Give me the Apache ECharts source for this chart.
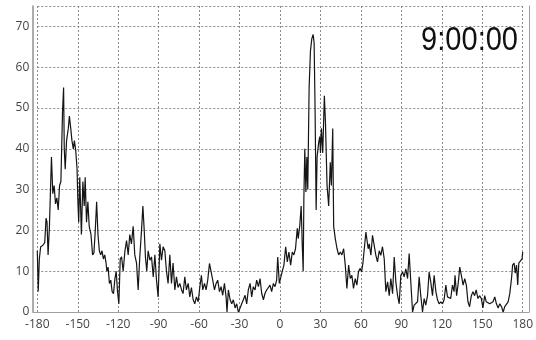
<!DOCTYPE html>
<html><head><meta charset="utf-8">
<script src="https://cdn.jsdelivr.net/npm/echarts@6/dist/echarts.min.js"></script>
<style>html,body{margin:0;padding:0;background:#fff}#c{width:536px;height:340px}</style>
</head><body><div id="c"></div>
<script>
// Angle (degrees) of each sample
const angles = [
-180,-179.3,-178.5,-177.5,-176,-174.5,-173.5,-172.8,-172,-171,-169.5,-168.5,-167.5,-166.5,-165.5,-164.5,-163.5,-162.5,-161.3,-160.5,-160,-159.3,-158.3,-157,-156.2,-155.2,-154.3,-153.3,-152.5,-151.5,-150.5,-150,-149.3,-148.5,-147.3,-146.2,-145.2,-144.5,-143.5,-142.5,-141.5,-140.2,-139,-138,-137,-136,-135,-134,-133,-132,-131,-130,-129,-128.4,-127.5,-126.5,-125.5,-124.5,-123.5,-122.5,-121.5,-120.5,-119.5,
-118.5,-117.5,-116.3,-115,-113.8,-112.6,-111.4,-110.2,-108.9,-107.7,-106.4,-105.2,-104,-102.7,-101.7,-100.7,-99.8,-98.8,-97.8,-96.5,-95.3,-94,-92.8,-91.6,-90.4,-89.1,-87.9,-86.7,-85.4,-84.2,-83,-81.7,-80.5,-79.3,-78,-76.8,-75.6,-74.3,-73,-71.9,-70.6,-69.4,-68.1,-66.9,-65.7,-64.4,-63.2,-62,-60.7,-59.5,-58.3,
-57.3,-56,-54.8,-53.6,-52.3,-51.1,-49.9,-48.6,-47.4,-46.2,-44.9,-43.7,-42.5,-41.2,-40,-39.3,-38.3,-37,-35.8,-34.6,-33.3,-32.1,-30.9,-29.6,-28.4,-27.2,-25.9,-24.7,-23.5,-22.2,-21,-19.8,-18.5,-17.3,-16,-14.8,-13.6,-12.3,-11.1,-9.9,-8.6,-7.4,-6.2,-4.9,-3.7,-2.5,-1.7,-0.5,
0.5,1.7,2.9,4.2,5.4,6.6,7.9,9.1,10.3,11.5,12.8,13.5,14.7,15.7,16.5,17.2,17.7,18.4,19.2,19.9,20.6,21.6,22.6,23.6,24.6,25.3,26,26.8,27.5,28.7,29.5,30,30.7,31.7,32.9,33.7,34.9,36.1,37.3,38.1,39.1,39.8,41,42.3,43.5,44.7,45.9,47.2,48.4,49.6,50.9,52.1,53.3,54.5,55.8,57,58.2,59.5,
60.5,61.5,62.5,63.7,64.4,65.4,66.2,67.4,68.6,69.9,71.1,72.3,73.6,74.8,76,77.3,78.5,79.8,81,82.2,83.5,84.7,85.9,87.2,88.4,89.6,90.9,92.1,93.3,94.6,95.8,97,98.3,99.5,100.7,102,103.2,104.4,105.7,106.9,108.1,109.4,110.6,111.8,113.1,114.3,115.6,116.8,118,
119.3,120.5,121.7,123,124.2,125.4,126.6,127.9,129.1,129.8,131,132.3,133.3,134.5,135.8,137,138.2,139.4,140.6,141.9,143.1,144.3,145.5,146.8,148,149.3,150.5,151.8,153,154.3,155.5,156.8,158,159.3,160.5,161.8,163,164.3,165.5,166.7,168,169.2,170.4,171.7,172.5,173.6,174.5,175.4,176.3,177.1,178.3,179.5,180
];
// Count at each angle
const counts = [
15,5,13,16,16.3,17,23,22,14,21,38,29,31,26.5,28,25,31,32,49,55,40,35,42,45,48,45,42,40,42,39.6,35,28,22,33,19,32,26,33,22,27,21,19,14,14.5,20,27,19,15,14,15,13,14,12,10,11,7,7.8,5,4.5,8,10,5,2,
13,13.5,10,15,17.5,14,19,16.7,21,14,12,5.4,13.5,20,26,20,13.5,10,15,12.7,13.5,8.6,14,7.8,3.7,16.7,12.7,16,15,10,7,14,7,12,5.4,8.6,6,7,5.4,4.5,8.6,5.4,7,3.7,6,3,2,3.7,2.5,6,9,
5.4,7,5.4,7.8,11.9,11.5,7.8,5.4,7,7.8,5,6.2,4.1,7,3.7,0,5.4,3,2,3,1,2,0,1,2,3,4.1,2,5.4,7,3.7,6.2,5.4,7.8,6.2,8.2,4.6,3,4.6,5.4,5,6.6,5,7,6.2,7.8,13.5,7,
7.4,10,11.5,16,12.3,14.7,11.5,14.7,14,15.5,20.5,18,21.3,26,16.4,10,27.8,40,29.4,38,30,55,64,67,68,66,50,25,38,41.6,43,39,45,39,53,46.5,31,26,36.7,31,45,21,18,15.5,14,14.7,14,15.5,11.5,5.8,11.5,8.2,9,5.8,8.2,6.6,9.9,10.7,
9.8,12,15.5,19.6,20,15.5,16.7,13.9,18.8,19.2,13.9,12.3,15,13.9,16,13,5,7.4,4,8.2,4.5,13.5,7.4,4,2,9,9.8,8.6,10.6,8.2,14.3,7.4,0,1.7,2,2.5,8.6,4,0,3.3,1.7,4,9.8,7.4,4,9,5,3,2,
2.5,2,3,6.6,3.7,4.1,3.3,6.6,5,9,4,7.4,11,9,6.6,8.2,6.6,2.5,1.3,4,5,4,5.4,3.3,4,3.3,1,4,2.5,2.5,2,2,2.5,3.7,2,1,2,1.3,0,1.3,1.7,2.5,4.5,8.2,11.5,12,9.5,11.5,6.6,12,12.3,13,14.7
];
const xTicks = { min: -180, max: 180, step: 30 };
const yTicks = { min: 0, max: 75, step: 10 };
const timeLabel = '9:00:00';

const points = angles.map((a, i) => [a, counts[i]]);
const grid = { lineColor: '#8a8a8a', frameColor: '#a0a0a0' };

const chart = echarts.init(document.getElementById('c'), null, { renderer: 'canvas' });
const labelStyle = { color: '#444', fontSize: 12, fontFamily: 'Open Sans' };
const dashed = { show: true, lineStyle: { color: grid.lineColor, type: [2, 2], width: 1 } };
chart.setOption({
  animation: false,
  backgroundColor: '#fff',
  grid: [
    { left: 37.3, right: 12.7, top: 6, bottom: 28 },
    { left: 33, right: 7, top: 6, bottom: 28 }
  ],
  xAxis: [
    { type: 'value', gridIndex: 0, min: xTicks.min, max: xTicks.max, interval: xTicks.step,
      axisLine: { show: false }, axisTick: { show: false }, splitLine: dashed,
      axisLabel: Object.assign({ margin: 7 }, labelStyle) },
    { type: 'value', gridIndex: 1, position: 'top', min: 0, max: 1,
      axisLine: { show: true, lineStyle: { color: grid.frameColor, width: 1 } },
      axisTick: { show: false }, axisLabel: { show: false }, splitLine: { show: false } }
  ],
  yAxis: [
    { type: 'value', gridIndex: 0, min: yTicks.min, max: yTicks.max, interval: yTicks.step,
      axisLine: { show: false }, axisTick: { show: false }, splitLine: dashed,
      axisLabel: Object.assign({ margin: 8, showMaxLabel: false }, labelStyle) },
    { type: 'value', gridIndex: 1, position: 'left', min: 0, max: 1,
      axisLine: { show: true, lineStyle: { color: '#909090', width: 1.5 } },
      axisTick: { show: false }, axisLabel: { show: false }, splitLine: { show: false } },
    { type: 'value', gridIndex: 1, position: 'right', min: 0, max: 1,
      axisLine: { show: true, lineStyle: { color: grid.frameColor, width: 1 } },
      axisTick: { show: false }, axisLabel: { show: false }, splitLine: { show: false } }
  ],
  graphic: [
    { type: 'text', x: 518, y: 24, scaleX: 0.88, z: 10,
      style: { text: timeLabel, fontSize: 33, fontFamily: 'Liberation Sans', fill: '#111',
               align: 'right', verticalAlign: 'top' } }
  ],
  series: [
    { type: 'line', xAxisIndex: 0, yAxisIndex: 0, data: points, showSymbol: false,
      lineStyle: { color: '#151515', width: 1.2 }, z: 5 }
  ]
});
</script>
</body></html>
